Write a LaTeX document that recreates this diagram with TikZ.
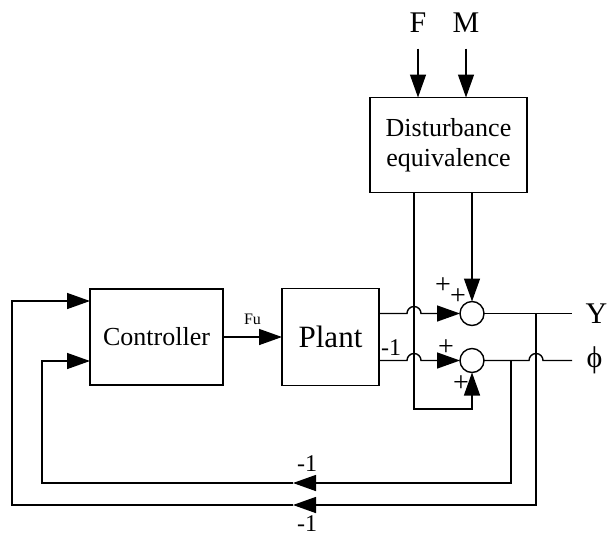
\documentclass[tikz,border=0pt]{standalone}
\usepackage{fontspec}
\setmainfont{Liberation Serif}
\usetikzlibrary{arrows.meta,positioning}

\begin{document}
\begin{tikzpicture}[
        x=1pt, y=-1pt,
        every path/.style={line width=1.4pt},
        block/.style={draw, inner sep=0pt, outer sep=0pt, align=center, font=\fontsize{26}{30}\selectfont},
        junction/.style={draw, circle, minimum size=24pt, inner sep=0pt, outer sep=0pt},
        sig/.style={inner sep=0pt, font=\fontsize{30}{30}\selectfont},
        sign/.style={inner sep=0pt, font=\fontsize{28}{28}\selectfont},
        gain/.style={inner sep=0pt, font=\fontsize{24}{24}\selectfont},
        tag/.style={inner sep=0pt, font=\fontsize{16}{16}\selectfont},
        >={Triangle[length=23pt,width=16pt]}
    ]
    \useasboundingbox (0,0) rectangle (609,538);

    % Nodes
    \node[block, minimum width=133pt, minimum height=96pt] (ctrl) at (156.5,337) {Controller};
    \node[block, minimum width=97pt, minimum height=97pt, font=\fontsize{31}{31}\selectfont, right=59pt of ctrl] (plant) {Plant};
    \node[block, minimum width=157pt, minimum height=95pt] (dist) at (448.5,145) {Disturbance\\equivalence};
    \node[junction] (sum1) at (472,313.5) {};
    \node[junction, below=23pt of sum1] (sum2) {};

    \node[sig] (F) at (418,23) {F};
    \node[sig] (M) at (466,23) {M};
    \coordinate (yout) at (572,313.5);
    \coordinate (pout) at (572,360.5);
    \node[sig, right=13pt of yout] (Y) {Y};
    \node[sig, right=14pt of pout] (phi) {\symbol{"03D5}};

    % signs and gains
    \node[sign] (s1) at (443,286) {+};
    \node[sign] (s2) at (458,297) {+};
    \node[sign] (s3) at (446,348) {+};
    \node[sign] (s4) at (461,384) {+};
    \node[gain] (g1) at (391,348) {-1};
    \node[gain] (g2) at (307,464) {-1};
    \node[gain] (g3) at (307,524) {-1};

    % branch points
    \coordinate (ytap) at (536,313.5);
    \coordinate (ptap) at (511,360.5);
    \coordinate (dlow) at (414,409);
    \coordinate (omid) at (293,505);
    \coordinate (imid) at (293,483);
    \coordinate (olft) at (12,301);
    \coordinate (ilft) at (42,361);

    % Edges
    \draw[->, shorten <=15pt] (F) -- (F |- dist.north);
    \draw[->, shorten <=15pt] (M) -- (M |- dist.north);
    \draw[->] (ctrl) -- node[tag, above=12pt] {Fu} (plant);
    \draw[->] (plant.east |- sum1) -- ++(28,0) arc (180:360:7) -- (sum1.west);
    \draw[->] (plant.east |- sum2) -- ++(28,0) arc (180:360:7) -- (sum2.west);
    \draw[->] (dist.south -| sum1) -- (sum1.north);
    \draw[->] (dlow |- dist.south) -- (dlow) -| (sum2.south);
    \draw (sum1.east) -- (yout);
    \draw (sum2.east) -- ++(45,0) arc (180:360:7) -- (pout);
    \draw[->] (ytap) |- (omid);
    \draw[->] (omid) -| (olft) -- (olft -| ctrl.west);
    \draw[->] (ptap) |- (imid);
    \draw[->] (imid) -| (ilft) -- (ilft -| ctrl.west);

\end{tikzpicture}
\end{document}
